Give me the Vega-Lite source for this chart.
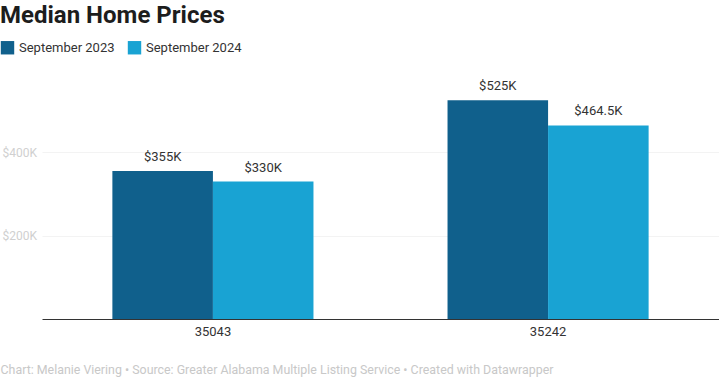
{
  "$schema": "https://vega.github.io/schema/vega-lite/v6.json",
  "autosize": "none",
  "width": 677,
  "height": 250,
  "padding": {"left": 42, "top": 69, "right": 0, "bottom": 61},
  "background": "white",
  "config": {
    "font": "Roboto",
    "view": {"stroke": null}
  },
  "title": {
    "text": "Median Home Prices",
    "anchor": "start",
    "frame": "group",
    "fontSize": 24,
    "fontWeight": "bold",
    "color": "#1d1d1d",
    "dx": -42,
    "offset": 12
  },
  "data": {
    "values": [
      {"zip": "35043", "period": "September 2023", "price": 355000, "label": "$355K"},
      {"zip": "35043", "period": "September 2024", "price": 330000, "label": "$330K"},
      {"zip": "35242", "period": "September 2023", "price": 525000, "label": "$525K"},
      {"zip": "35242", "period": "September 2024", "price": 464500, "label": "$464.5K"}
    ]
  },
  "encoding": {
    "x": {
      "field": "zip",
      "type": "nominal",
      "scale": {"paddingInner": 0.4, "paddingOuter": 0.21},
      "axis": {
        "title": "Chart: Melanie Viering • Source: Greater Alabama Multiple Listing Service • Created with Datawrapper",
        "titleFont": "Roboto",
        "titleFontSize": 12.4,
        "titleFontWeight": "normal",
        "titleColor": "#c8c8c8",
        "titleAnchor": "start",
        "titleAlign": "left",
        "titleX": -42,
        "titleY": 44,
        "labelAngle": 0,
        "labelFontSize": 13,
        "labelColor": "#333333",
        "labelPadding": 6,
        "ticks": false,
        "domainColor": "#333333",
        "domainWidth": 1
      }
    },
    "xOffset": {"field": "period", "type": "nominal"},
    "y": {
      "field": "price",
      "type": "quantitative",
      "scale": {"domain": [0, 600000], "nice": false},
      "axis": {
        "title": null,
        "values": [200000, 400000],
        "labelExpr": "'$' + datum.value/1000 + 'K'",
        "labelAlign": "left",
        "labelPadding": 40,
        "labelFontSize": 12,
        "labelColor": "#d0d0d0",
        "ticks": false,
        "domain": false,
        "grid": true,
        "gridColor": "#f3f3f3"
      }
    }
  },
  "layer": [
    {
      "mark": {"type": "bar"},
      "encoding": {
        "color": {
          "field": "period",
          "type": "nominal",
          "scale": {"range": ["#10608c", "#19a3d3"]},
          "legend": {
            "title": null,
            "orient": "none",
            "direction": "horizontal",
            "legendX": -42,
            "legendY": -29,
            "symbolType": "square",
            "symbolSize": 180,
            "symbolOpacity": 1,
            "labelFontSize": 13,
            "labelColor": "#333333",
            "columnPadding": 12,
            "labelOffset": 4
          }
        }
      }
    },
    {
      "mark": {"type": "text", "baseline": "bottom", "dy": -7, "fontSize": 13, "color": "#333333"},
      "encoding": {
        "text": {"field": "label"}
      }
    }
  ]
}
